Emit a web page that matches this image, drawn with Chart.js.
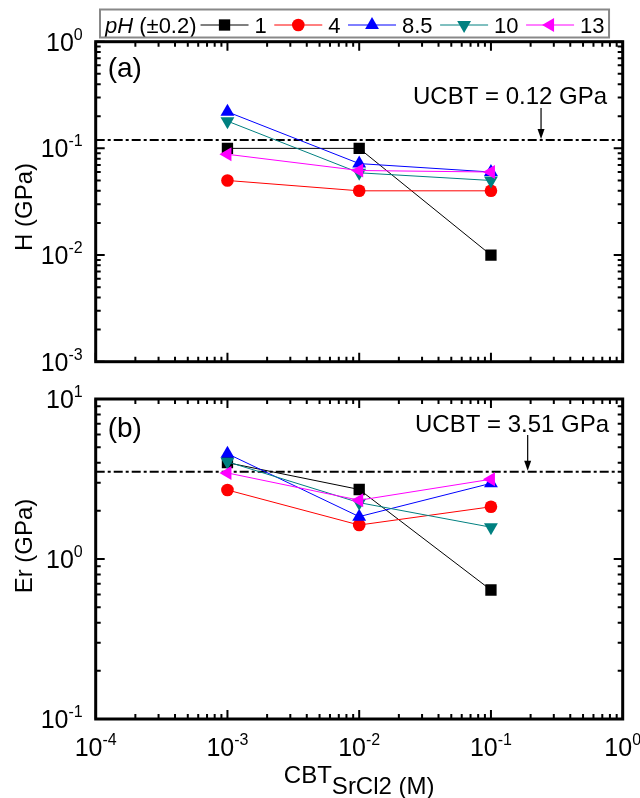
<!DOCTYPE html>
<html>
<head>
<meta charset="utf-8">
<script src="https://cdn.jsdelivr.net/npm/chart.js@4.4.1/dist/chart.umd.min.js"></script>
<style>
  html, body { margin: 0; padding: 0; background: #fff; }
  #lienzo { position: relative; width: 640px; height: 798px; }
  #lienzo canvas { position: absolute; left: 0; }
</style>
</head>
<body>
<div id="lienzo">
  <canvas id="panelDureza" width="640" height="390" style="top:0"></canvas>
  <canvas id="panelModulo" width="640" height="428" style="top:370px"></canvas>
</div>
<script>
// Concentración de SrCl2 (M) y series por pH
const concentraciones = [1e-3, 1e-2, 1e-1];
const etiquetasPh = ['1', '4', '8.5', '10', '13'];

// (a) dureza H (GPa)
const durezaPh1 = [0.1, 0.1, 0.01];
const durezaPh4 = [0.05, 0.04, 0.04];
const durezaPh85 = [0.22, 0.072, 0.06];
const durezaPh10 = [0.18, 0.059, 0.05];
const durezaPh13 = [0.088, 0.062, 0.06];

// (b) módulo reducido Er (GPa)
const moduloPh1 = [4.0, 2.72, 0.64];
const moduloPh4 = [2.7, 1.63, 2.12];
const moduloPh85 = [4.55, 1.84, 2.97];
const moduloPh10 = [4.05, 2.25, 1.58];
const moduloPh13 = [3.45, 2.33, 3.15];

// Valores UCBT de referencia y posición x de la flecha
const ucbtDureza = 0.12;
const ucbtModulo = 3.51;
const flechaDurezaX = 0.24;
const flechaModuloX = 0.19;

const FUENTE = '"Liberation Sans", Arial, Helvetica, sans-serif';
const colores = ['#000000', '#ff0000', '#0000ff', '#008080', '#ff00ff'];
const estilos = ['rect', 'circle', 'triangle', 'triangle', 'triangle'];
const rotaciones = [0, 0, 0, 180, -90];
const radios = [8, 6.3, 8, 8, 8];

const dibujarPunto = (ctx, i, x, y) => {
  const opts = { pointStyle: estilos[i], rotation: rotaciones[i], radius: radios[i], borderWidth: 0 };
  ctx.fillStyle = colores[i];
  if (Chart.helpers && Chart.helpers.drawPoint) {
    Chart.helpers.drawPoint(ctx, opts, x, y);
    return;
  }
  ctx.beginPath();
  ctx.arc(x, y, radios[i], 0, Math.PI * 2);
  ctx.fill();
};

// etiqueta tipo 10^n, alineada a la derecha (eje y) o centrada (eje x)
const potenciaDiez = (ctx, exp, x, y, modo) => {
  const base = '10';
  const sup = String(exp);
  ctx.font = `25px ${FUENTE}`;
  const wb = ctx.measureText(base).width;
  ctx.font = `16px ${FUENTE}`;
  const ws = ctx.measureText(sup).width;
  const total = wb + ws;
  const x0 = modo === 'derecha' ? x - total : x - total / 2;
  ctx.textAlign = 'left';
  ctx.textBaseline = 'alphabetic';
  ctx.font = `25px ${FUENTE}`;
  ctx.fillText(base, x0, y);
  ctx.font = `16px ${FUENTE}`;
  ctx.fillText(sup, x0 + wb, y - 11);
};

const marcoOrigin = {
  id: 'marcoOrigin',
  beforeDatasetsDraw(chart, args, opts) {
    const { ctx, chartArea: a, scales: { x, y } } = chart;
    // línea punto-raya del UCBT
    const yv = y.getPixelForValue(opts.ucbt);
    ctx.save();
    ctx.strokeStyle = '#000';
    ctx.lineWidth = 2;
    ctx.setLineDash([9, 3, 3, 3]);
    ctx.beginPath();
    ctx.moveTo(a.left, yv);
    ctx.lineTo(a.right, yv);
    ctx.stroke();
    ctx.setLineDash([]);
    // flecha y texto
    const xf = x.getPixelForValue(opts.flechaX);
    ctx.lineWidth = 1.2;
    ctx.beginPath();
    ctx.moveTo(xf, opts.flechaDesde);
    ctx.lineTo(xf, yv - 8);
    ctx.stroke();
    ctx.fillStyle = '#000';
    ctx.beginPath();
    ctx.moveTo(xf, yv - 1);
    ctx.lineTo(xf - 3.5, yv - 11);
    ctx.lineTo(xf + 3.5, yv - 11);
    ctx.closePath();
    ctx.fill();
    ctx.font = `24px ${FUENTE}`;
    ctx.textAlign = 'left';
    ctx.textBaseline = 'alphabetic';
    ctx.fillText(opts.textoUcbt, opts.textoX, opts.textoY);
    // letra del panel
    ctx.font = `28px ${FUENTE}`;
    ctx.fillText(opts.letra, a.left + 12, opts.letraY);
    ctx.restore();
  },
  afterDraw(chart, args, opts) {
    const { ctx, chartArea: a, scales: { x, y } } = chart;
    ctx.save();
    ctx.strokeStyle = '#000';
    ctx.fillStyle = '#000';
    ctx.lineWidth = 2;
    const marcas = (escala, cb) => {
      const e0 = Math.round(Math.log10(escala.min));
      const e1 = Math.round(Math.log10(escala.max));
      for (let e = e0; e <= e1; e++) {
        cb(Math.pow(10, e), true, e);
        if (e === e1) break;
        for (let k = 2; k <= 9; k++) cb(k * Math.pow(10, e), false, e);
      }
    };
    ctx.beginPath();
    marcas(x, (v, mayor) => {
      const px = x.getPixelForValue(v);
      const l = mayor ? 9 : 5;
      ctx.moveTo(px, a.bottom); ctx.lineTo(px, a.bottom - l);
      ctx.moveTo(px, a.top); ctx.lineTo(px, a.top + l);
    });
    marcas(y, (v, mayor) => {
      const py = y.getPixelForValue(v);
      const l = mayor ? 9 : 5;
      ctx.moveTo(a.left, py); ctx.lineTo(a.left + l, py);
      ctx.moveTo(a.right, py); ctx.lineTo(a.right - l, py);
    });
    ctx.stroke();
    ctx.lineWidth = 3;
    ctx.strokeRect(a.left, a.top, a.right - a.left, a.bottom - a.top);

    // etiquetas de ticks
    marcas(y, (v, mayor, e) => {
      if (mayor) potenciaDiez(ctx, e, a.left - 13, y.getPixelForValue(v) + 9, 'derecha');
    });
    if (opts.etiquetasX) {
      marcas(x, (v, mayor, e) => {
        if (mayor) potenciaDiez(ctx, e, x.getPixelForValue(v), a.bottom + 37, 'centro');
      });
    }

    // título del eje y
    ctx.save();
    ctx.translate(25, opts.tituloYCentro);
    ctx.rotate(-Math.PI / 2);
    ctx.font = `24px ${FUENTE}`;
    ctx.textAlign = 'center';
    ctx.textBaseline = 'middle';
    ctx.fillText(opts.tituloY, 0, 0);
    ctx.restore();

    // título del eje x con subíndice
    if (opts.etiquetasX) {
      ctx.font = `24px ${FUENTE}`;
      const w1 = ctx.measureText('CBT').width;
      const w2 = ctx.measureText('SrCl2 (M)').width;
      const cx = (a.left + a.right) / 2;
      const x0 = cx - (w1 + w2) / 2;
      ctx.textAlign = 'left';
      ctx.textBaseline = 'alphabetic';
      ctx.fillText('CBT', x0, a.bottom + 64);
      ctx.fillText('SrCl2 (M)', x0 + w1, a.bottom + 75);
    }

    // leyenda en línea con recuadro
    if (opts.leyenda) {
      const yl = 25;
      let xl = 105;
      ctx.textAlign = 'left';
      ctx.textBaseline = 'alphabetic';
      ctx.font = `italic 22px ${FUENTE}`;
      ctx.fillText('pH', xl, 33);
      xl += ctx.measureText('pH').width;
      ctx.font = `22px ${FUENTE}`;
      ctx.fillText(' (±0.2)', xl, 33);
      xl += ctx.measureText(' (±0.2)').width + 4;
      etiquetasPh.forEach((et, i) => {
        ctx.strokeStyle = colores[i];
        ctx.lineWidth = 1;
        ctx.beginPath();
        ctx.moveTo(xl, yl);
        ctx.lineTo(xl + 48, yl);
        ctx.stroke();
        dibujarPunto(ctx, i, xl + 24, yl);
        xl += 54;
        ctx.fillStyle = '#000';
        ctx.font = `22px ${FUENTE}`;
        ctx.fillText(et, xl, 33);
        xl += ctx.measureText(et).width + 7.5;
      });
      ctx.strokeStyle = '#888';
      ctx.lineWidth = 2;
      ctx.strokeRect(100, 9.5, xl - 100 - 3, 28);
    }
    ctx.restore();
  }
};

const crearPanel = (canvas, series, cfg) => new Chart(canvas, {
  type: 'line',
  data: {
    datasets: series.map((valores, i) => ({
      label: etiquetasPh[i],
      data: concentraciones.map((c, j) => ({ x: c, y: valores[j] })),
      borderColor: colores[i],
      backgroundColor: colores[i],
      borderWidth: 1,
      tension: 0,
      pointStyle: estilos[i],
      pointRotation: rotaciones[i],
      pointRadius: radios[i],
      pointHoverRadius: radios[i],
      pointBorderWidth: 0,
      order: series.length - i
    }))
  },
  options: {
    responsive: false,
    animation: false,
    events: [],
    layout: { padding: cfg.padding },
    plugins: {
      legend: { display: false },
      tooltip: { enabled: false },
      marcoOrigin: cfg.marco
    },
    scales: {
      x: { type: 'logarithmic', min: 1e-4, max: 1, display: false },
      y: { type: 'logarithmic', min: cfg.yMin, max: cfg.yMax, display: false }
    }
  },
  plugins: [marcoOrigin]
});

crearPanel(document.getElementById('panelDureza'),
  [durezaPh1, durezaPh4, durezaPh85, durezaPh10, durezaPh13], {
    yMin: 1e-3, yMax: 1,
    padding: { left: 95.7, right: 17.3, top: 41.7, bottom: 28.3 },
    marco: {
      ucbt: ucbtDureza, flechaX: flechaDurezaX, flechaDesde: 108,
      textoUcbt: 'UCBT = 0.12 GPa', textoX: 413, textoY: 103.5,
      letra: '(a)', letraY: 77,
      tituloY: 'H (GPa)', tituloYCentro: 207,
      etiquetasX: false, leyenda: true
    }
  });

// el lienzo del panel (b) empieza en y=370
crearPanel(document.getElementById('panelModulo'),
  [moduloPh1, moduloPh4, moduloPh85, moduloPh10, moduloPh13], {
    yMin: 0.1, yMax: 10,
    padding: { left: 95.7, right: 17.3, top: 29, bottom: 79 },
    marco: {
      ucbt: ucbtModulo, flechaX: flechaModuloX, flechaDesde: 65,
      textoUcbt: 'UCBT = 3.51 GPa', textoX: 415, textoY: 61.7,
      letra: '(b)', letraY: 67,
      tituloY: 'Er (GPa)', tituloYCentro: 176,
      etiquetasX: true, leyenda: false
    }
  });
</script>
</body>
</html>
